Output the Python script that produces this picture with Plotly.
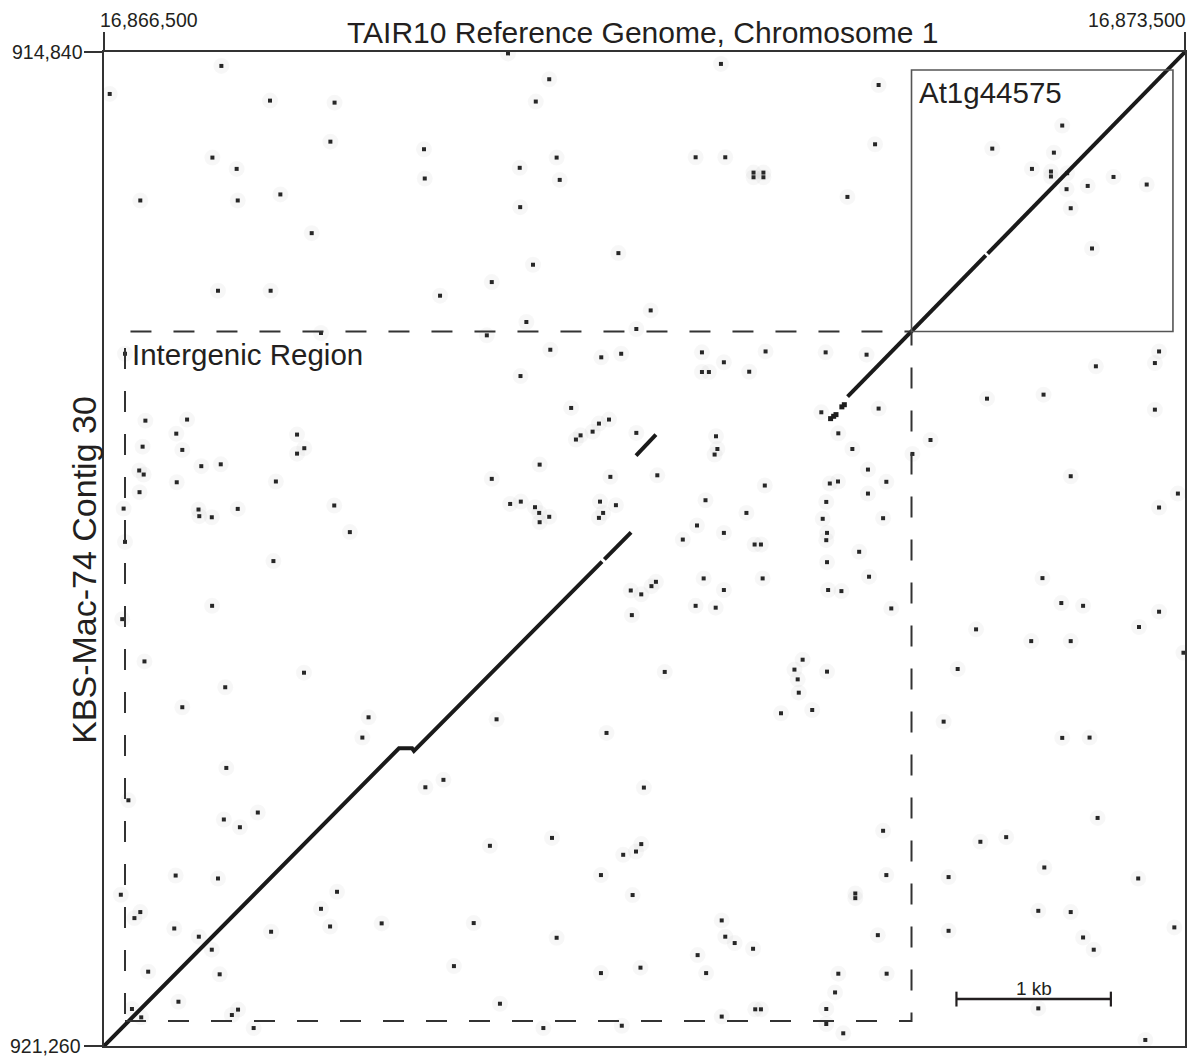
import plotly.graph_objects as go

# ---------------- data ----------------
REF_START, REF_END = 16866500, 16873500        # TAIR10 chr1 window (bp)
CONTIG_START, CONTIG_END = 914840, 921260      # KBS-Mac-74 contig 30 window (bp)

x_tick_labels = ["16,866,500", "16,873,500"]
y_tick_labels = ["914,840", "921,260"]

# alignment runs (offsets in bp from window start): list of vertex lists (ref_off, contig_off)
aln_ref = [
    [0, 1910, 1995, 2007, 3225],
    [3240, 3413],
    [3445, 3574],
    [4815, 5710],
    [5722, 7000],
]
aln_contig = [
    [6420, 4497, 4497, 4514, 3292],
    [3277, 3103],
    [2607, 2471],
    [2226, 1314],
    [1302, 0],
]

# short broken match fragments next to the main diagonal
frag_ref = [4705, 4725, 4740, 4778, 4794]
frag_contig = [2368, 2353, 2342, 2292, 2278]

# scattered word matches (ref offset, contig offset), bp
dot_ref = [
    760, 37, 1075, 1493, 2616, 2883, 2796, 1466, 702, 859, 2072, 2077, 2692, 2931, 2951, 235, 866, 1142,
    2695, 1345, 3331, 2778, 738, 1079, 2511, 2176, 2735, 1405, 2479, 3447, 136, 2890, 3220, 3349, 2697,
    3025, 3205, 3270, 3164, 3086, 3056, 3447, 268, 538, 468, 1250, 250, 507, 1297, 1250, 630, 756, 228,
    257, 471, 1113, 230, 2821, 2511, 3279, 127, 612, 617, 698, 866, 1491, 2630, 2699, 2791, 2818, 2883,
    2821, 3212, 3315, 3232, 3205, 1592, 136,
    3995, 5016, 4993, 3831, 4023, 4206, 4206, 4270, 4270, 4814, 6205, 5752, 6151, 6009, 6132, 6132, 6237,
    6233, 6370, 6537, 6752, 6260, 6398, 3540, 3872, 4014, 3872, 3917, 4178, 4284, 4673, 4938, 6832, 6805,
    6423, 5718, 6084, 6805, 5016, 4645, 4755, 5352, 3963, 3972, 3954, 4846, 4947, 5235, 3583, 4279, 4700,
    4753, 5066, 4947, 6260, 6954, 6832, 3895, 4160, 4677, 4654, 5045, 3840, 4014, 3748, 4213, 4254, 4682,
    4677,
    1097, 700, 118, 262, 1295, 785, 507, 1713, 1673, 2542, 3254, 3411, 3479, 3418, 792, 2081, 2198, 158,
    996, 776, 880, 2901, 2499, 3362, 3445, 3479, 464, 738, 3218, 109, 1509, 3423, 235, 197, 1405, 1464,
    1798, 2394, 455, 1082, 614, 698, 2931, 286, 749, 2266, 3218, 3474, 482, 2564, 181, 241, 828, 868, 969,
    2845, 3353,
    4890, 4682, 3574, 3545, 3883, 4014, 3831, 3961, 4265, 4689, 4775, 4954, 5098, 6077, 6199, 6340, 6832,
    5647, 6702, 6004, 6260, 6990, 4524, 4471, 4492, 4499, 4682, 3631, 5528, 4384, 4586, 5437, 6205, 6382,
    3496, 6434, 5045, 5675, 5842, 6089, 5066, 5469, 6697, 4865, 4865, 6050, 6260, 4000, 4023, 4084, 4203,
    5011, 5469, 6340, 6409, 6931, 3844, 3899, 4755, 5068, 4734, 4677, 4217, 4254, 4000, 4677, 4787, 6050,
    6743,
]
dot_contig = [
    90, 271, 314, 327, 9, 176, 320, 579, 682, 755, 628, 817, 748, 682, 826, 959, 959, 920,
    1002, 1170, 1299, 1374, 1542, 1542, 1486, 1574, 1744, 1815, 1830, 1789, 1949, 1923, 1972, 1949, 2093,
    2299, 2400, 2374, 2452, 2476, 2503, 2460, 2381, 2374, 2465, 2471, 2549, 2570, 2559, 2594, 2675, 2663, 2703,
    2729, 2779, 2774, 2843, 2665, 2757, 2744, 2949, 2955, 2998, 3005, 2951, 2929, 2919, 2904, 2940, 2977, 3002,
    3037, 2904, 2927, 2977, 3009, 3101, 3164,
    77, 213, 596, 680, 680, 779, 809, 779, 809, 936, 475, 624, 650, 755, 772, 804, 783,
    886, 865, 807, 856, 1009, 1269, 1669, 1940, 2004, 2067, 2067, 2065, 1934, 1940, 1955, 1934, 2009,
    2030, 2239, 2213, 2310, 2303, 2327, 2463, 2506, 2482, 2564, 2600, 2564, 2697, 2596, 2734, 2800, 2787,
    2774, 2776, 2852, 2740, 2852, 2942, 2895, 2977, 2906, 3015, 3011, 3058, 3106, 3149, 3181, 3181, 3106,
    3153,
    3288, 3577, 3663, 3936, 4009, 4103, 4232, 4297, 4428, 4310, 4398, 3478, 3503, 3637, 4624, 4749, 4701, 4833,
    4912, 4957, 5007, 5076, 5127, 5185, 5164, 5116, 5319, 5338, 5316, 5443, 5424, 5445, 5555, 5594, 5534, 5648,
    5628, 5626, 5661, 5682, 5714, 5798, 5721, 5940, 5957, 5904, 5949, 5914, 6134, 6147, 6181, 6235, 6220, 6185, 6304,
    6304, 6289,
    3228, 3295, 3422, 3450, 3400, 3475, 3577, 3589, 3400, 3475, 3482, 3389, 3594, 3398, 3559, 3577, 3615,
    3729, 3714, 3805, 3805, 3880, 3925, 3989, 4052, 4138, 4002, 4004, 3985, 4271, 4250, 4325, 4430, 4428,
    4751, 4947, 5030, 5101, 5071, 5267, 5316, 5329, 5338, 5435, 5465, 5547, 5555, 5609, 5714, 5755, 5792,
    5704, 5676, 5719, 5798, 5654, 5833, 5949, 5953, 5953, 6074, 6181, 6183, 6183, 6230, 6278, 6338, 6177,
    6381,
]

# highlighted regions (ref_start, ref_end, contig_start, contig_end) offsets in bp
gene_box = [5229, 6922, 116, 1805]
intergenic_box = [136, 5229, 1805, 6258]
gene_label = "At1g44575"
intergenic_label = "Intergenic Region"

scale_bar_bp = 1000
scale_bar_ref = 16872020
scale_bar_contig = 920957

TXT = "#231f20"
FONT = "Liberation Sans, Arial, sans-serif"

def rx(v):
    return REF_START + v

def cy(v):
    return CONTIG_START + v

fig = go.Figure()

# faint halos around each word match
fig.add_trace(go.Scatter(
    x=[rx(v) for v in dot_ref], y=[cy(v) for v in dot_contig], mode="markers",
    marker=dict(symbol="circle", size=16, color="rgba(0,0,0,0.03)", line=dict(width=0)),
    hoverinfo="skip", showlegend=False))
fig.add_trace(go.Scatter(
    x=[rx(v) for v in dot_ref], y=[cy(v) for v in dot_contig], mode="markers",
    marker=dict(symbol="square", size=4, color="#262626", line=dict(width=0)),
    showlegend=False))
fig.add_trace(go.Scatter(
    x=[rx(v) for v in frag_ref], y=[cy(v) for v in frag_contig], mode="markers",
    marker=dict(symbol="square", size=5, color="#1e1e1e", line=dict(width=0)),
    showlegend=False))

# alignment runs
for xs, ys in zip(aln_ref, aln_contig):
    fig.add_trace(go.Scatter(
        x=[rx(v) for v in xs], y=[cy(v) for v in ys], mode="lines",
        line=dict(color="#1a1a1a", width=4), showlegend=False))

# highlighted boxes
fig.add_shape(type="rect", xref="x", yref="y",
              x0=rx(intergenic_box[0]), x1=rx(intergenic_box[1]),
              y0=cy(intergenic_box[3]), y1=cy(intergenic_box[2]),
              line=dict(color="#333333", width=2, dash="21px,22px"))
fig.add_shape(type="rect", xref="x", yref="y",
              x0=rx(gene_box[0]), x1=rx(gene_box[1]),
              y0=cy(gene_box[2]), y1=cy(gene_box[3]),
              line=dict(color="#555555", width=1.6))

# scale bar
fig.add_shape(type="line", xref="x", yref="y", x0=scale_bar_ref, x1=scale_bar_ref + scale_bar_bp,
              y0=scale_bar_contig, y1=scale_bar_contig, line=dict(color="#231f20", width=2.5))
for xe in (scale_bar_ref, scale_bar_ref + scale_bar_bp):
    fig.add_shape(type="line", xref="x", yref="y", x0=xe, x1=xe,
                  y0=scale_bar_contig - 48, y1=scale_bar_contig + 48,
                  line=dict(color="#231f20", width=2.2))

ann = []
ann.append(dict(text="1 kb", x=scale_bar_ref + scale_bar_bp / 2, y=scale_bar_contig, xref="x", yref="y",
                yanchor="bottom", yshift=-2, showarrow=False, font=dict(size=19, color=TXT, family=FONT)))
ann.append(dict(text=gene_label, x=rx(gene_box[0]), y=cy(gene_box[2]), xref="x", yref="y",
                xanchor="left", yanchor="top", xshift=5, yshift=-4, showarrow=False,
                font=dict(size=29.5, color=TXT, family=FONT)))
ann.append(dict(text=intergenic_label, x=rx(intergenic_box[0]), y=cy(intergenic_box[2]), xref="x", yref="y",
                xanchor="left", yanchor="top", xshift=5, yshift=-5, showarrow=False,
                font=dict(size=29.5, color=TXT, family=FONT)))
# axis titles
ann.append(dict(text="TAIR10 Reference Genome, Chromosome 1", x=0.498, y=1, xref="paper", yref="paper",
                yanchor="middle", yshift=20, showarrow=False, font=dict(size=30, color=TXT, family=FONT)))
ann.append(dict(text="KBS-Mac-74 Contig 30", x=0, y=0.479, xref="paper", yref="paper", textangle=-90,
                xanchor="center", yanchor="middle", xshift=-20, showarrow=False,
                font=dict(size=34, color=TXT, family=FONT)))
# tick labels
ann.append(dict(text=x_tick_labels[0], x=REF_START, y=1, xref="x", yref="paper", xanchor="left",
                yanchor="middle", xshift=-6, yshift=32, showarrow=False,
                font=dict(size=19.5, color=TXT, family=FONT)))
ann.append(dict(text=x_tick_labels[1], x=REF_END, y=1, xref="x", yref="paper", xanchor="right",
                yanchor="middle", xshift=3, yshift=32, showarrow=False,
                font=dict(size=19.5, color=TXT, family=FONT)))
ann.append(dict(text=y_tick_labels[0], x=0, y=CONTIG_START, xref="paper", yref="y", xanchor="right",
                yanchor="middle", xshift=-19, showarrow=False, font=dict(size=19.5, color=TXT, family=FONT)))
ann.append(dict(text=y_tick_labels[1], x=0, y=CONTIG_END, xref="paper", yref="y", xanchor="right",
                yanchor="middle", xshift=-21, showarrow=False, font=dict(size=19.5, color=TXT, family=FONT)))

fig.update_layout(
    width=1198, height=1059,
    margin=dict(l=104, r=11, t=52, b=12),
    paper_bgcolor="white", plot_bgcolor="white",
    showlegend=False, annotations=ann,
    xaxis=dict(range=[REF_START, REF_END], side="top", showgrid=False, zeroline=False,
               showline=True, linecolor="#333333", linewidth=2, mirror=True,
               tickvals=[REF_START, REF_END], ticks="outside", ticklen=18, tickwidth=1.5,
               tickcolor="#333333", showticklabels=False),
    yaxis=dict(range=[CONTIG_END, CONTIG_START], showgrid=False, zeroline=False,
               showline=True, linecolor="#333333", linewidth=2, mirror=True,
               tickvals=[CONTIG_START, CONTIG_END], ticks="outside", ticklen=18, tickwidth=1.5,
               tickcolor="#333333", showticklabels=False),
)

fig.write_html("out.html")
